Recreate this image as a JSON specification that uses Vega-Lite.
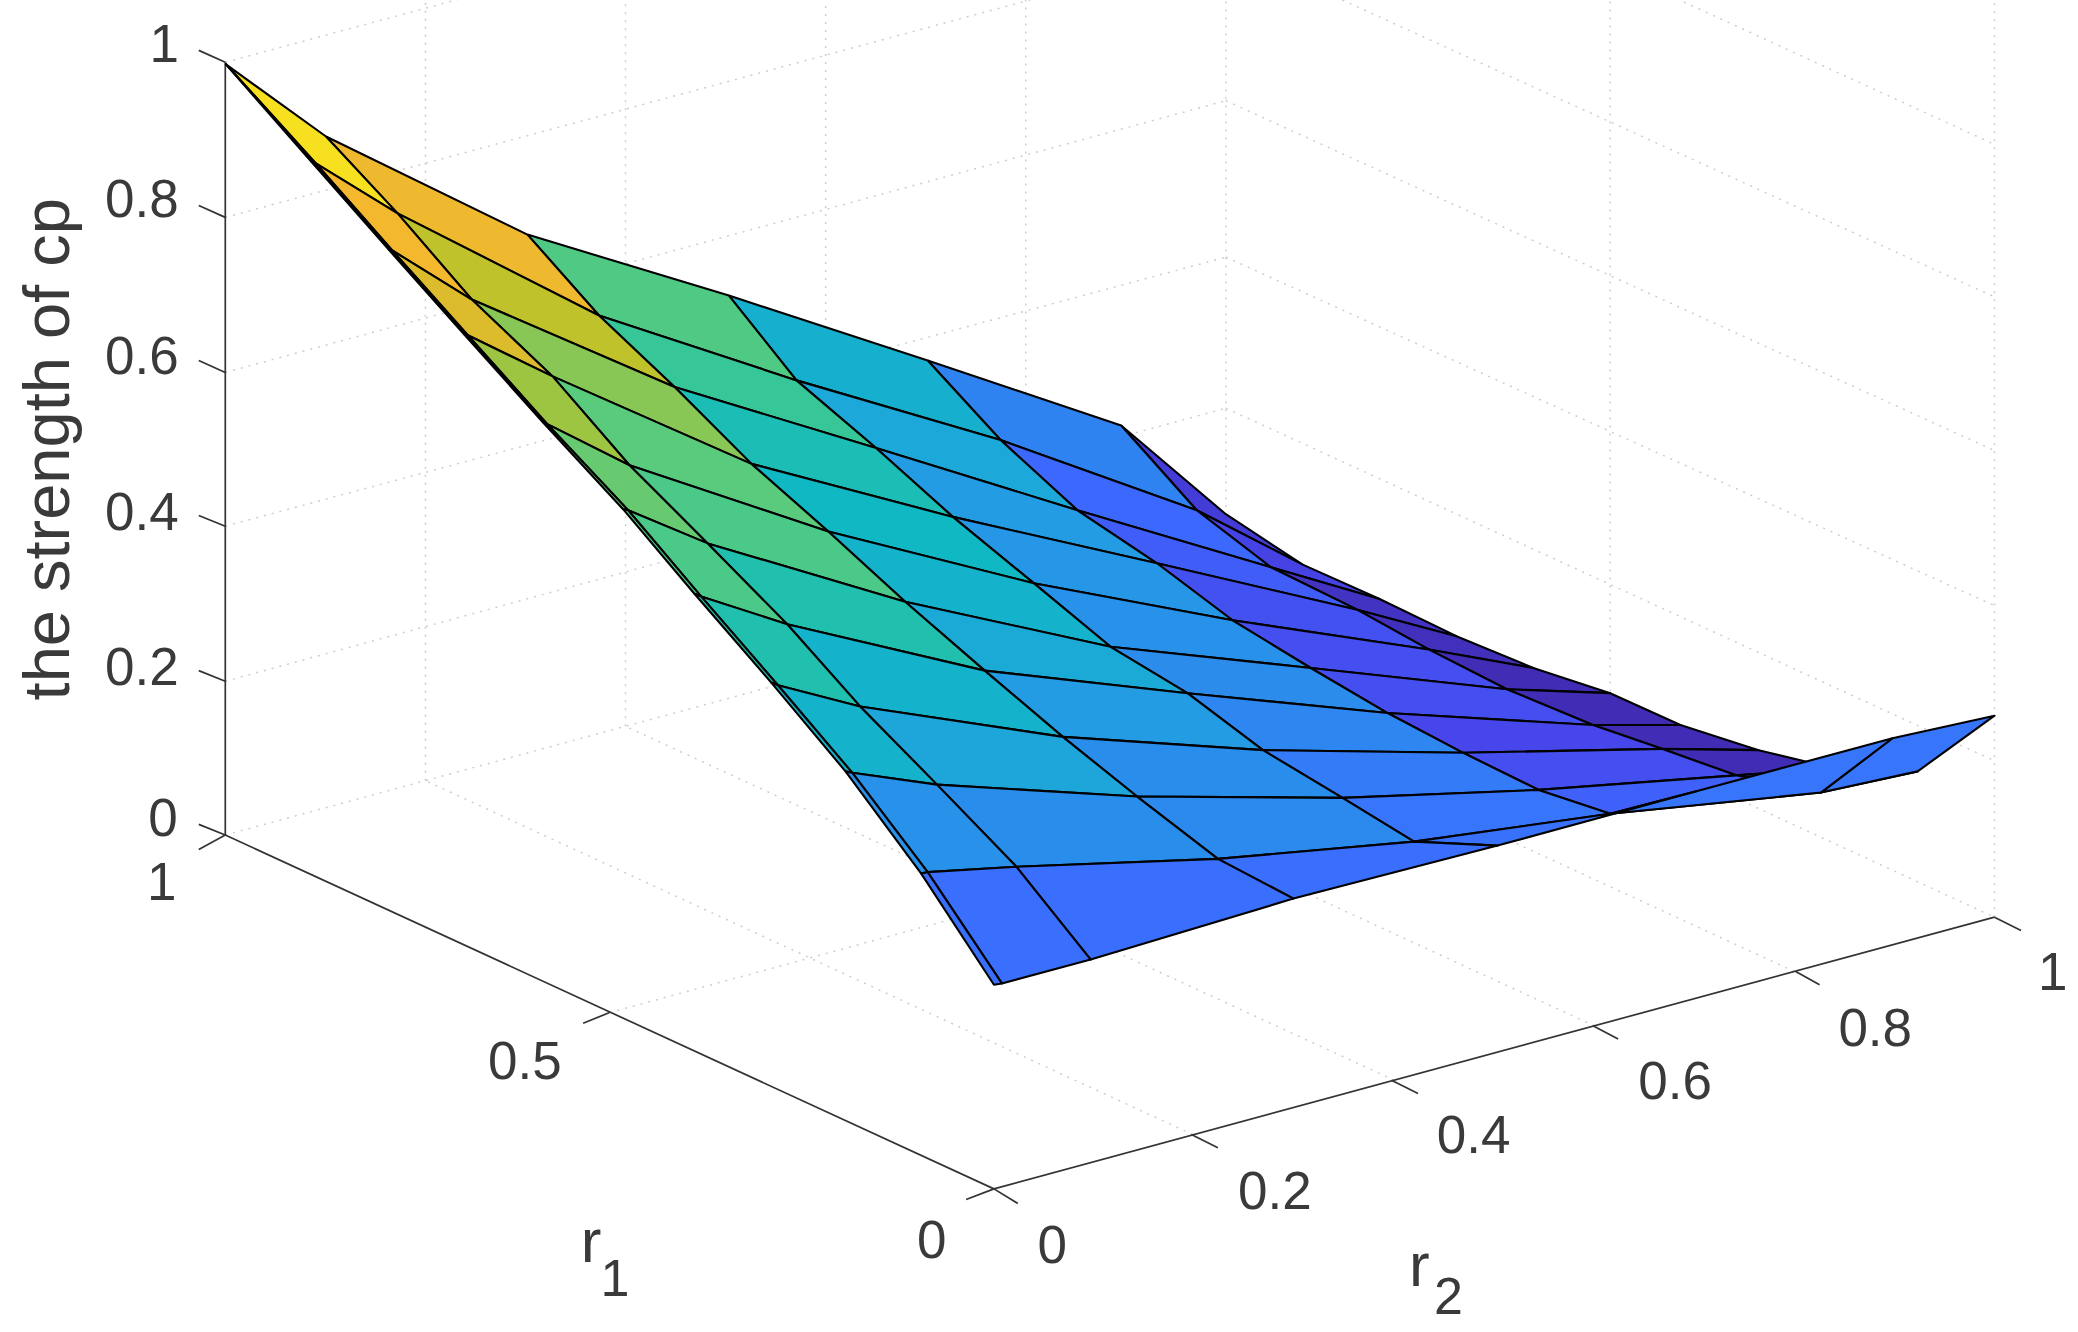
{
  "$schema": "https://vega.github.io/schema/vega-lite/v6.json",
  "width": 2078,
  "height": 1332,
  "padding": 0,
  "autosize": {"type": "none"},
  "background": "white",
  "config": {"view": {"stroke": null}},
  "datasets": {
    "cells": [
      {"cell":"r0c6","level":0.07,"ord":[0,1,2,3,4],"px":[846,925,983,903,846],"py":[321,388,426,385,321]},
      {"cell":"r0c5","level":0.28,"ord":[0,1,2,3,4],"px":[700,846,903,755,700],"py":[272,321,385,332,272]},
      {"cell":"r0c4","level":0.46,"ord":[0,1,2,3,4],"px":[550,700,755,601,550],"py":[223,272,332,287,223]},
      {"cell":"r0c3","level":0.67,"ord":[0,1,2,3,4],"px":[398,550,601,452,398],"py":[177,223,287,238,177]},
      {"cell":"r0c2","level":0.89,"ord":[0,1,2,3,4],"px":[246,398,452,300,246],"py":[103,177,238,161,103]},
      {"cell":"r0c1","level":0.96,"ord":[0,1,2,3,4],"px":[171,246,300,238,171],"py":[49,103,161,123,49]},
      {"cell":"r0c0","level":0.96,"ord":[0,1,2,3,4],"px":[170,171,238,235,170],"py":[48,49,123,122,48]},

      {"cell":"r1c6","level":0.09,"ord":[0,1,2,3,4],"px":[903,983,1041,959,903],"py":[385,426,452,428,385]},
      {"cell":"r1c5","level":0.19,"ord":[0,1,2,3,4],"px":[755,903,959,813,755],"py":[332,385,428,385,332]},
      {"cell":"r1c4","level":0.42,"ord":[0,1,2,3,4],"px":[601,755,813,661,601],"py":[287,332,385,338,287]},
      {"cell":"r1c3","level":0.62,"ord":[0,1,2,3,4],"px":[452,601,661,509,452],"py":[238,287,338,292,238]},
      {"cell":"r1c2","level":0.81,"ord":[0,1,2,3,4],"px":[300,452,509,356,300],"py":[161,238,292,226,161]},
      {"cell":"r1c1","level":0.90,"ord":[0,1,2,3,4],"px":[238,300,356,296,238],"py":[123,161,226,189,123]},
      {"cell":"r1c0","level":0.90,"ord":[0,1,2,3,4],"px":[235,238,296,293,235],"py":[122,123,189,188,122]},

      {"cell":"r2c6","level":0.04,"ord":[0,1,2,3,4],"px":[959,1041,1099,1024,959],"py":[428,452,480,460,428]},
      {"cell":"r2c5","level":0.16,"ord":[0,1,2,3,4],"px":[813,959,1024,873,813],"py":[385,428,460,425,385]},
      {"cell":"r2c4","level":0.37,"ord":[0,1,2,3,4],"px":[661,813,873,719,661],"py":[338,385,425,390,338]},
      {"cell":"r2c3","level":0.54,"ord":[0,1,2,3,4],"px":[509,661,719,567,509],"py":[292,338,390,350,292]},
      {"cell":"r2c2","level":0.745,"ord":[0,1,2,3,4],"px":[356,509,567,417,356],"py":[226,292,350,284,226]},
      {"cell":"r2c1","level":0.86,"ord":[0,1,2,3,4],"px":[296,356,417,353,296],"py":[189,226,284,253,189]},
      {"cell":"r2c0","level":0.86,"ord":[0,1,2,3,4],"px":[293,296,353,350,293],"py":[188,189,253,252,188]},

      {"cell":"r3c6","level":0.03,"ord":[0,1,2,3,4],"px":[1024,1099,1157,1078,1024],"py":[460,480,504,490,460]},
      {"cell":"r3c5","level":0.13,"ord":[0,1,2,3,4],"px":[873,1024,1078,930,873],"py":[425,460,490,468,425]},
      {"cell":"r3c4","level":0.35,"ord":[0,1,2,3,4],"px":[719,873,930,780,719],"py":[390,425,468,440,390]},
      {"cell":"r3c3","level":0.50,"ord":[0,1,2,3,4],"px":[567,719,780,625,567],"py":[350,390,440,401,350]},
      {"cell":"r3c2","level":0.69,"ord":[0,1,2,3,4],"px":[417,567,625,475,417],"py":[284,350,401,351,284]},
      {"cell":"r3c1","level":0.77,"ord":[0,1,2,3,4],"px":[353,417,475,413,353],"py":[253,284,351,320,253]},
      {"cell":"r3c0","level":0.77,"ord":[0,1,2,3,4],"px":[350,353,413,410,350],"py":[252,253,320,319,252]},

      {"cell":"r4c6","level":0.02,"ord":[0,1,2,3,4],"px":[1078,1157,1215,1137,1078],"py":[490,504,523,520,490]},
      {"cell":"r4c5","level":0.12,"ord":[0,1,2,3,4],"px":[930,1078,1137,989,930],"py":[468,490,520,504,468]},
      {"cell":"r4c4","level":0.33,"ord":[0,1,2,3,4],"px":[780,930,989,838,780],"py":[440,468,504,488,440]},
      {"cell":"r4c3","level":0.47,"ord":[0,1,2,3,4],"px":[625,780,838,683,625],"py":[401,440,488,454,401]},
      {"cell":"r4c2","level":0.66,"ord":[0,1,2,3,4],"px":[475,625,683,534,475],"py":[351,401,454,410,351]},
      {"cell":"r4c1","level":0.71,"ord":[0,1,2,3,4],"px":[413,475,534,474,413],"py":[320,351,410,385,320]},
      {"cell":"r4c0","level":0.71,"ord":[0,1,2,3,4],"px":[410,413,474,470,410],"py":[319,320,385,384,319]},

      {"cell":"r5c6","level":0.02,"ord":[0,1,2,3,4],"px":[1137,1215,1268,1202,1137],"py":[520,523,547,547,520]},
      {"cell":"r5c5","level":0.12,"ord":[0,1,2,3,4],"px":[989,1137,1202,1047,989],"py":[504,520,547,538,504]},
      {"cell":"r5c4","level":0.31,"ord":[0,1,2,3,4],"px":[838,989,1047,896,838],"py":[488,504,538,523,488]},
      {"cell":"r5c3","level":0.43,"ord":[0,1,2,3,4],"px":[683,838,896,743,683],"py":[454,488,523,506,454]},
      {"cell":"r5c2","level":0.56,"ord":[0,1,2,3,4],"px":[534,683,743,594,534],"py":[410,454,506,471,410]},
      {"cell":"r5c1","level":0.66,"ord":[0,1,2,3,4],"px":[474,534,594,529,474],"py":[385,410,471,450,385]},
      {"cell":"r5c0","level":0.66,"ord":[0,1,2,3,4],"px":[470,474,529,524,470],"py":[384,385,450,448,384]},

      {"cell":"r6c6","level":0.02,"ord":[0,1,2,3,4],"px":[1202,1268,1327,1254,1202],"py":[547,547,566,565,547]},
      {"cell":"r6c5","level":0.10,"ord":[0,1,2,3,4],"px":[1047,1202,1254,1104,1047],"py":[538,547,565,568,538]},
      {"cell":"r6c4","level":0.29,"ord":[0,1,2,3,4],"px":[896,1047,1104,953,896],"py":[523,538,568,566,523]},
      {"cell":"r6c3","level":0.37,"ord":[0,1,2,3,4],"px":[743,896,953,802,743],"py":[506,523,566,556,506]},
      {"cell":"r6c2","level":0.47,"ord":[0,1,2,3,4],"px":[594,743,802,649,594],"py":[471,506,556,533,471]},
      {"cell":"r6c1","level":0.56,"ord":[0,1,2,3,4],"px":[529,594,649,587,529],"py":[450,471,533,517,450]},
      {"cell":"r6c0","level":0.56,"ord":[0,1,2,3,4],"px":[524,529,587,582,524],"py":[448,450,517,515,448]},

      {"cell":"r7c6","level":0.02,"ord":[0,1,2,3,4],"px":[1254,1327,1385,1310,1254],"py":[565,566,580,585,565]},
      {"cell":"r7c5","level":0.12,"ord":[0,1,2,3,4],"px":[1104,1254,1310,1161,1104],"py":[568,565,585,596,568]},
      {"cell":"r7c4","level":0.25,"ord":[0,1,2,3,4],"px":[953,1104,1161,1013,953],"py":[566,568,596,602,566]},
      {"cell":"r7c3","level":0.32,"ord":[0,1,2,3,4],"px":[802,953,1013,858,802],"py":[556,566,602,601,556]},
      {"cell":"r7c2","level":0.41,"ord":[0,1,2,3,4],"px":[649,802,858,707,649],"py":[533,556,601,592,533]},
      {"cell":"r7c1","level":0.47,"ord":[0,1,2,3,4],"px":[587,649,707,643,587],"py":[517,533,592,583,517]},
      {"cell":"r7c0","level":0.47,"ord":[0,1,2,3,4],"px":[582,587,643,638,582],"py":[515,517,583,582,515]},

      {"cell":"r8c6","level":0.10,"ord":[0,1,2,3,4],"px":[1310,1385,1447,1374,1310],"py":[585,580,582,598,585]},
      {"cell":"r8c5","level":0.17,"ord":[0,1,2,3,4],"px":[1161,1310,1374,1215,1161],"py":[596,585,598,614,596]},
      {"cell":"r8c4","level":0.23,"ord":[0,1,2,3,4],"px":[1013,1161,1215,1067,1013],"py":[602,596,614,635,602]},
      {"cell":"r8c3","level":0.30,"ord":[0,1,2,3,4],"px":[858,1013,1067,919,858],"py":[601,602,635,648,601]},
      {"cell":"r8c2","level":0.32,"ord":[0,1,2,3,4],"px":[707,858,919,767,707],"py":[592,601,648,654,592]},
      {"cell":"r8c1","level":0.33,"ord":[0,1,2,3,4],"px":[643,707,767,700,643],"py":[583,592,654,658,583]},
      {"cell":"r8c0","level":0.33,"ord":[0,1,2,3,4],"px":[638,643,700,695,638],"py":[582,583,658,659,582]},

      {"cell":"r9c6","level":0.23,"ord":[0,1,2,3,4],"px":[1374,1447,1505,1428,1374],"py":[598,582,540,557,598]},
      {"cell":"r9c5","level":0.23,"ord":[0,1,2,3,4],"px":[1215,1374,1428,1280,1215],"py":[614,598,557,597,614]},
      {"cell":"r9c4","level":0.22,"ord":[0,1,2,3,4],"px":[1067,1215,1280,1130,1067],"py":[635,614,597,638,635]},
      {"cell":"r9c3","level":0.21,"ord":[0,1,2,3,4],"px":[919,1067,1130,976,919],"py":[648,635,638,678,648]},
      {"cell":"r9c2","level":0.21,"ord":[0,1,2,3,4],"px":[767,919,976,823,767],"py":[654,648,678,724,654]},
      {"cell":"r9c1","level":0.21,"ord":[0,1,2,3,4],"px":[700,767,823,756,700],"py":[658,654,724,742,658]},
      {"cell":"r9c0","level":0.21,"ord":[0,1,2,3,4],"px":[695,700,756,750,695],"py":[659,658,742,743,659]}
    ],
    "grid": [
      {"x1":170,"y1":47,"x2":925,"y2":-157},
      {"x1":170,"y1":164,"x2":925,"y2":-40},
      {"x1":170,"y1":281,"x2":925,"y2":76},
      {"x1":170,"y1":397,"x2":925,"y2":194},
      {"x1":170,"y1":514,"x2":925,"y2":308},
      {"x1":170,"y1":630,"x2":925,"y2":425},
      {"x1":925,"y1":-157,"x2":1505,"y2":109},
      {"x1":925,"y1":-40,"x2":1505,"y2":224},
      {"x1":925,"y1":76,"x2":1505,"y2":340},
      {"x1":925,"y1":194,"x2":1505,"y2":457},
      {"x1":925,"y1":308,"x2":1505,"y2":574},
      {"x1":925,"y1":425,"x2":1505,"y2":692},
      {"x1":321,"y1":589,"x2":321,"y2":0},
      {"x1":472,"y1":548,"x2":472,"y2":0},
      {"x1":623,"y1":507,"x2":623,"y2":0},
      {"x1":774,"y1":466,"x2":774,"y2":0},
      {"x1":925,"y1":425,"x2":925,"y2":0},
      {"x1":1215,"y1":558,"x2":1215,"y2":0},
      {"x1":1505,"y1":692,"x2":1505,"y2":0},
      {"x1":460,"y1":764,"x2":1215,"y2":558},
      {"x1":900,"y1":856,"x2":321,"y2":589},
      {"x1":1052,"y1":815,"x2":472,"y2":548},
      {"x1":1203,"y1":774,"x2":623,"y2":507},
      {"x1":1354,"y1":733,"x2":774,"y2":466}
    ],
    "axes": [
      {"x1":170,"y1":47,"x2":170,"y2":630},
      {"x1":170,"y1":630,"x2":750,"y2":897},
      {"x1":750,"y1":897,"x2":1505,"y2":692},
      {"x1":150,"y1":38,"x2":170,"y2":47},
      {"x1":150,"y1":155,"x2":170,"y2":164},
      {"x1":150,"y1":272,"x2":170,"y2":281},
      {"x1":150,"y1":389,"x2":170,"y2":397},
      {"x1":150,"y1":506,"x2":170,"y2":514},
      {"x1":150,"y1":622,"x2":170,"y2":630},
      {"x1":170,"y1":630,"x2":150,"y2":641},
      {"x1":460,"y1":764,"x2":440,"y2":772},
      {"x1":750,"y1":897,"x2":729,"y2":905},
      {"x1":750,"y1":897,"x2":768,"y2":908},
      {"x1":899,"y1":856,"x2":919,"y2":866},
      {"x1":1050,"y1":815,"x2":1070,"y2":825},
      {"x1":1202,"y1":774,"x2":1221,"y2":784},
      {"x1":1355,"y1":733,"x2":1373,"y2":743},
      {"x1":1505,"y1":692,"x2":1525,"y2":702}
    ],
    "ticklabels": [
      {"label":"1","px":124,"py":35},
      {"label":"0.8","px":107,"py":152},
      {"label":"0.6","px":107,"py":270},
      {"label":"0.4","px":107,"py":388},
      {"label":"0.2","px":107,"py":505},
      {"label":"0","px":123,"py":619},
      {"label":"1","px":122,"py":667},
      {"label":"0.5","px":396,"py":802},
      {"label":"0","px":703,"py":937},
      {"label":"0","px":794,"py":941},
      {"label":"0.2","px":962,"py":900},
      {"label":"0.4","px":1112,"py":858},
      {"label":"0.6","px":1264,"py":817},
      {"label":"0.8","px":1415,"py":777},
      {"label":"1","px":1549,"py":735}
    ],
    "names": [
      {"label":"r","px":446,"py":938},
      {"label":"r","px":1071,"py":956}
    ],
    "subs": [
      {"label":"1","px":464,"py":966},
      {"label":"2","px":1093,"py":979}
    ],
    "ztitle": [
      {"label":"the strength of cp","px":37,"py":339}
    ]
  },
  "encoding": {
    "x": {"field": "px", "type": "quantitative", "axis": null, "scale": {"domain": [0, 1568], "nice": false, "zero": false}},
    "y": {"field": "py", "type": "quantitative", "axis": null, "scale": {"domain": [1005, 0], "nice": false, "zero": false}}
  },
  "layer": [
    {
      "data": {"name": "grid"},
      "mark": {"type": "rule", "clip": true, "color": "#cdcdcd", "strokeWidth": 1.5, "strokeDash": [2, 6]},
      "encoding": {
        "x": {"field": "x1", "type": "quantitative", "axis": null},
        "y": {"field": "y1", "type": "quantitative", "axis": null},
        "x2": {"field": "x2"},
        "y2": {"field": "y2"}
      }
    },
    {
      "data": {"name": "axes"},
      "mark": {"type": "rule", "color": "#333333", "strokeWidth": 1.7},
      "encoding": {
        "x": {"field": "x1", "type": "quantitative", "axis": null},
        "y": {"field": "y1", "type": "quantitative", "axis": null},
        "x2": {"field": "x2"},
        "y2": {"field": "y2"}
      }
    },
    {
      "data": {"name": "cells"},
      "transform": [{"flatten": ["ord", "px", "py"]}],
      "mark": {"type": "line", "stroke": "#000000", "strokeWidth": 2.1, "strokeJoin": "round"},
      "encoding": {
        "detail": {"field": "cell", "type": "nominal"},
        "order": {"field": "ord", "type": "quantitative"},
        "fill": {
          "field": "level",
          "type": "quantitative",
          "legend": null,
          "scale": {
            "domain": [0, 0.1, 0.2, 0.3, 0.4, 0.5, 0.6, 0.7, 0.8, 0.9, 1],
            "range": ["#3e26a8", "#4746eb", "#3b6cff", "#2c89ee", "#1fa4de", "#10b8c4", "#2cc59f", "#5fcb78", "#b9c32a", "#f4b82e", "#f9fb15"],
            "interpolate": "rgb"
          }
        }
      }
    },
    {
      "data": {"name": "ticklabels"},
      "mark": {"type": "text", "font": "Liberation Sans", "fontSize": 53, "color": "#3a3a3a", "align": "center", "baseline": "middle"},
      "encoding": {"text": {"field": "label"}}
    },
    {
      "data": {"name": "names"},
      "mark": {"type": "text", "font": "Liberation Sans", "fontSize": 62, "color": "#3a3a3a", "align": "center", "baseline": "middle"},
      "encoding": {"text": {"field": "label"}}
    },
    {
      "data": {"name": "subs"},
      "mark": {"type": "text", "font": "Liberation Sans", "fontSize": 52, "color": "#3a3a3a", "align": "center", "baseline": "middle"},
      "encoding": {"text": {"field": "label"}}
    },
    {
      "data": {"name": "ztitle"},
      "mark": {"type": "text", "font": "Liberation Sans", "fontSize": 65, "color": "#3a3a3a", "align": "center", "baseline": "middle", "angle": 270},
      "encoding": {"text": {"field": "label"}}
    }
  ]
}
